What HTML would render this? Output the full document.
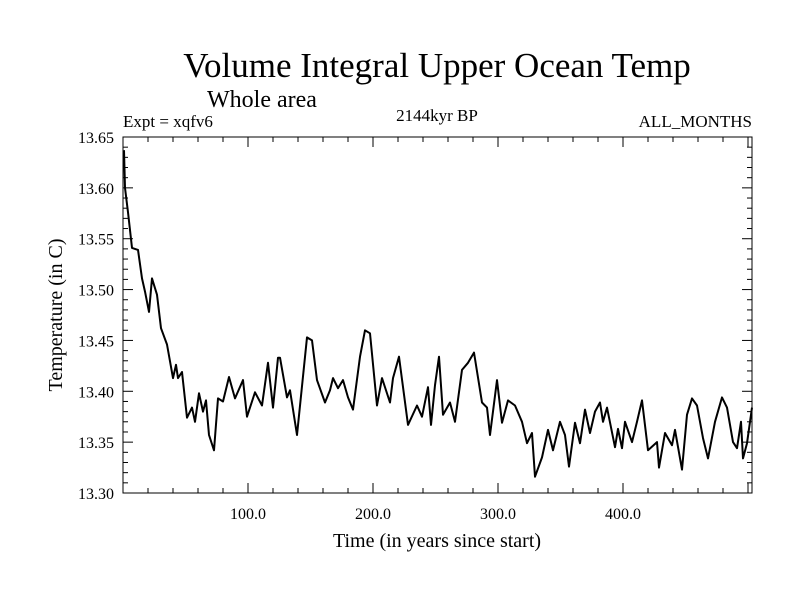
<!DOCTYPE html>
<html><head><meta charset="utf-8">
<style>
html,body{margin:0;padding:0;background:#fff;}
svg{display:block;}
text{font-family:"Liberation Serif",serif;fill:#000;}
</style></head>
<body>
<svg id="chart" width="800" height="600" viewBox="0 0 800 600" xmlns="http://www.w3.org/2000/svg">
<text x="437" y="77" font-size="35" text-anchor="middle">Volume Integral Upper Ocean Temp</text>
<text x="207" y="107" font-size="24">Whole area</text>
<text x="123" y="127" font-size="17">Expt = xqfv6</text>
<text x="437" y="121" font-size="17" text-anchor="middle">2144kyr BP</text>
<text x="752" y="127" font-size="17" text-anchor="end">ALL_MONTHS</text>
<text x="0" y="0" font-size="20" text-anchor="middle" transform="translate(62,315) rotate(-90)">Temperature (in C)</text>
<text x="437" y="547" font-size="20" text-anchor="middle">Time (in years since start)</text>
<g id="axes"></g>
<g id="series"></g>
</svg>
<script>
const years = [0.8,1.6,4,7.2,12,15.2,17.6,20.8,23.2,27.2,30.4,35.2,40,42.4,44,47.2,51.2,55.2,57.6,60.8,64,66.4,68.8,72.8,76,80,84.8,89.6,96,99.2,105.6,111.2,116,120,124,125.6,131.2,133.6,139.2,147.2,151.2,155.2,161.6,165.6,168,172,176,180,184,189.6,193.6,197.6,203.2,207.2,213.6,216,220.8,228,235.2,239.2,244,246.4,249.6,252.8,256,261.6,265.6,271.2,276,280.8,287.2,291.2,293.6,299.2,303.2,308,313.6,319.2,323.2,327.2,329.6,335.2,340,344,349.6,353.6,356.8,361.6,365.6,369.6,373.6,377.6,381.6,384,387.2,393.6,396,399.2,401.6,407.2,411.2,415.2,420,427.2,428.8,433.6,439.2,441.6,447.2,451.2,455.2,459.2,464,468,473.6,479.2,483.2,488,491.2,494.4,496,499.2,503.2];
const temps = [13.637,13.600,13.576,13.541,13.539,13.511,13.498,13.478,13.511,13.495,13.462,13.446,13.413,13.426,13.413,13.419,13.374,13.384,13.370,13.398,13.380,13.391,13.357,13.342,13.393,13.390,13.414,13.393,13.411,13.375,13.399,13.386,13.428,13.384,13.433,13.433,13.394,13.401,13.357,13.453,13.450,13.411,13.389,13.401,13.413,13.403,13.411,13.394,13.382,13.434,13.460,13.457,13.386,13.413,13.389,13.413,13.434,13.367,13.386,13.375,13.404,13.367,13.406,13.434,13.377,13.389,13.370,13.421,13.428,13.438,13.389,13.384,13.357,13.411,13.369,13.391,13.386,13.370,13.349,13.359,13.316,13.335,13.362,13.342,13.370,13.357,13.326,13.369,13.349,13.382,13.359,13.380,13.389,13.370,13.384,13.345,13.363,13.344,13.370,13.350,13.370,13.391,13.342,13.350,13.325,13.359,13.347,13.362,13.323,13.377,13.393,13.386,13.354,13.334,13.370,13.394,13.384,13.350,13.344,13.370,13.334,13.349,13.384];
const xTickLabels = ["100.0","200.0","300.0","400.0"];
const xTickValues = [100,200,300,400];
const yTickLabels = ["13.30","13.35","13.40","13.45","13.50","13.55","13.60","13.65"];
const yTickValues = [13.30,13.35,13.40,13.45,13.50,13.55,13.60,13.65];

const L=123,R=752,T=137,B=493,XMAX=503.2,YMIN=13.30,YMAX=13.65;
const xs=v=>L+(v/XMAX)*(R-L);
const ys=v=>B-(v-YMIN)/(YMAX-YMIN)*(B-T);
const NS="http://www.w3.org/2000/svg";
const axes=document.getElementById('axes');
function mk(tag,attrs,parent){const e=document.createElementNS(NS,tag);for(const k in attrs)e.setAttribute(k,attrs[k]);parent.appendChild(e);return e;}
const frame=mk('rect',{x:L,y:T,width:R-L,height:B-T,fill:'none',stroke:'#000','stroke-width':1},axes);


// x ticks every 20, major every 100
for(let v=20;v<XMAX;v+=20){
  const major=v%100===0, len=major?10:5, x=xs(v);
  const t1=mk('line',{x1:x,y1:B,x2:x,y2:B-len,stroke:'#000'},axes);
  
  
  const t2=mk('line',{x1:x,y1:T,x2:x,y2:T+len,stroke:'#000'},axes);
  
  
}
xTickValues.forEach((v,i)=>{
  const t=mk('text',{x:xs(v),y:B+26,'font-size':16,'text-anchor':'middle'},axes);
  t.textContent=xTickLabels[i];
  
  
});
for(let k=1;k<35;k++){
  const v=YMIN+k*0.01, major=k%5===0, len=major?10:5, y=ys(v);
  const a=mk('line',{x1:L,y1:y,x2:L+len,y2:y,stroke:'#000'},axes);
  
  
  const b=mk('line',{x1:R,y1:y,x2:R-len,y2:y,stroke:'#000'},axes);
  
  
}
yTickValues.forEach((v,i)=>{
  const t=mk('text',{x:L-9,y:ys(v)+6,'font-size':16,'text-anchor':'end'},axes);
  t.textContent=yTickLabels[i];
  
  
});
const d=years.map((v,i)=>(i?'L':'M')+xs(v).toFixed(1)+','+ys(temps[i]).toFixed(1)).join(' ');
const line=mk('path',{d:d,fill:'none',stroke:'#000','stroke-width':2,'stroke-linejoin':'round'},document.getElementById('series'));


</script>
</body></html>
